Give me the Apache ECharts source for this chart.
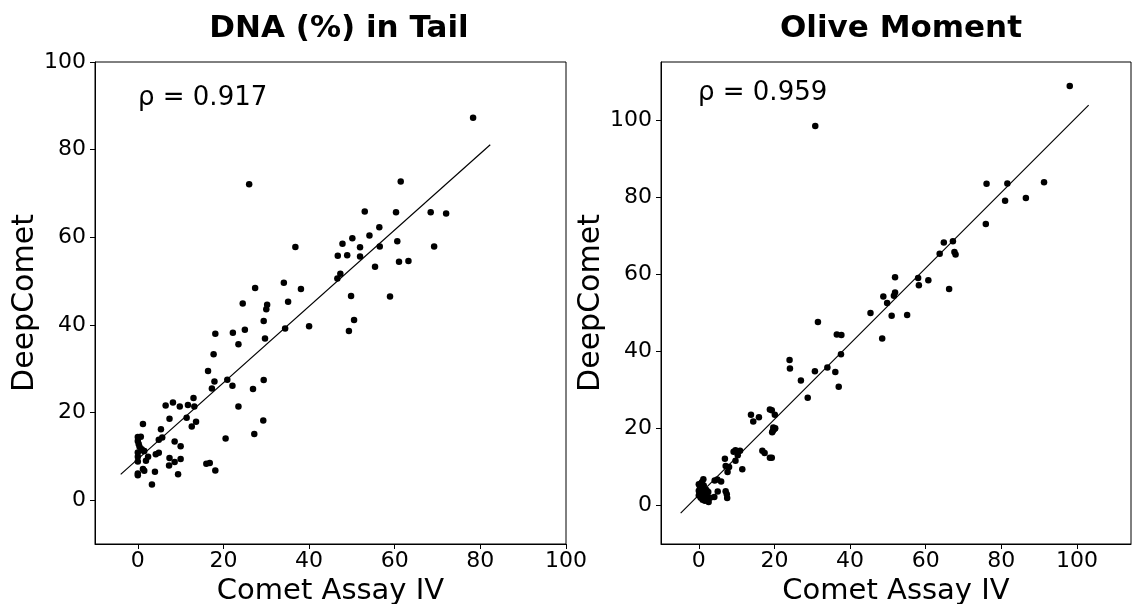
<html>
  <head>
    <meta charset="utf-8">
    <script src="https://cdnjs.cloudflare.com/ajax/libs/echarts/6.0.0/echarts.min.js"></script>
    <style>
      body { margin: 0; background-color: #fff; }
      #chart { width: 1137px; height: 604px; }
    </style>
  </head>
  <body>
    <div id="chart"></div>
  </body>
  <script>
    // DNA (%) in Tail - Comet Assay IV vs DeepComet
    var dnaX = [78.3, 26.0, 61.4, 53.0, 60.3, 68.4, 72.0, 56.4, 54.1, 50.1, 47.8, 36.8, 51.9, 56.5, 60.6, 69.2,
                46.7, 48.9, 51.9, 61.0, 63.2, 55.4, 47.3, 46.6, 34.1, 27.4, 38.1, 49.8, 58.9, 24.5, 30.2, 30.0,
                35.1, 29.4, 40.0, 49.3, 50.5, 34.4, 25.0, 22.2, 18.1, 29.7, 23.5, 17.7, 16.4, 20.9, 29.4, 17.9,
                22.1, 17.3, 26.9, 13.0, 8.2, 6.5, 9.8, 11.7, 13.2, 23.5, 7.4, 11.4, 13.6, 12.6, 29.3, 1.2,
                5.4, 27.2, 0.0, 0.7, 5.7, 4.9, 20.5, 0.0, 8.6, 10.0, 0.2, 0.4, 0.9, 1.5, 0.0, 1.4,
                4.9, 4.2, 2.4, 1.9, 0.0, 0.0, 7.4, 10.0, 8.6, 7.3, 1.2, 1.5, 4.0, 0.0, 0.0, 9.4,
                16.0, 16.8, 18.1, 3.3];
    var dnaY = [87.3, 72.1, 72.7, 65.9, 65.7, 65.7, 65.4, 62.3, 60.4, 59.8, 58.5, 57.8, 57.7, 57.9, 59.1, 57.9,
                55.8, 55.9, 55.6, 54.4, 54.6, 53.3, 51.7, 50.6, 49.6, 48.4, 48.2, 46.6, 46.5, 44.9, 44.6, 43.6,
                45.3, 40.9, 39.7, 38.6, 41.1, 39.2, 38.9, 38.2, 38.0, 36.9, 35.6, 33.3, 29.5, 27.5, 27.4, 27.1,
                26.1, 25.5, 25.4, 23.3, 22.3, 21.6, 21.4, 21.7, 21.4, 21.4, 18.6, 18.8, 17.9, 16.8, 18.2, 17.4,
                16.2, 15.1, 14.4, 14.5, 14.3, 13.8, 14.1, 13.5, 13.4, 12.3, 12.8, 12.2, 11.6, 11.2, 10.9, 11.2,
                10.8, 10.5, 9.9, 9.0, 9.9, 8.8, 9.6, 9.4, 8.7, 7.9, 7.1, 6.7, 6.5, 6.1, 5.7, 5.9,
                8.3, 8.5, 6.8, 3.6];
    var dnaFitX = [-4.0, 82.3];
    var dnaFitY = [5.9, 81.1];
    var dnaRho = 'ρ = 0.917';

    // Olive Moment
    var oliveX = [98.1, 30.8, 76.1, 81.6, 91.3, 81.0, 86.5, 75.9, 64.8, 67.2, 63.7, 67.6, 67.9, 51.9, 58.0, 60.7,
                  58.2, 66.2, 48.8, 51.9, 51.6, 49.8, 45.4, 51.0, 55.1, 31.5, 48.5, 36.5, 37.7, 37.6, 24.0, 24.1,
                  30.7, 34.0, 36.1, 27.0, 37.0, 28.8, 13.8, 14.4, 15.9, 18.8, 19.3, 20.1, 19.7, 20.2, 19.6, 19.4,
                  20.0, 9.2, 9.7, 10.9, 10.3, 9.7, 16.8, 17.4, 18.8, 19.3, 6.9, 7.1, 8.0, 7.6, 11.5, 1.2,
                  4.2, 4.9, 5.9, 5.0, 7.1, 7.4, 7.5, 2.6, 4.1, 0.0, 0.3, 0.6, 0.0, 0.2, 0.0, 0.5,
                  1.0, 1.5, 1.8, 2.0, 1.3, 2.5, 3.0, 0.8, 1.6];
    var oliveY = [108.8, 98.4, 83.4, 83.5, 83.8, 79.0, 79.7, 73.0, 68.2, 68.5, 65.3, 65.7, 65.1, 59.2, 59.0, 58.4,
                  57.1, 56.1, 54.2, 55.2, 54.4, 52.5, 49.9, 49.2, 49.4, 47.6, 43.3, 44.3, 44.2, 39.2, 37.7, 35.5,
                  34.8, 35.8, 34.6, 32.4, 30.8, 27.9, 23.5, 21.8, 22.9, 24.9, 24.7, 23.5, 20.2, 20.0, 19.4, 19.0,
                  19.8, 13.9, 14.3, 14.2, 13.0, 11.6, 14.2, 13.6, 12.4, 12.4, 12.1, 10.2, 10.0, 8.7, 9.4, 6.8,
                  6.5, 6.7, 6.2, 3.6, 3.7, 2.9, 1.9, 0.9, 2.2, 5.5, 4.8, 4.2, 3.8, 3.2, 2.6, 2.0,
                  1.5, 3.0, 2.4, 4.0, 5.2, 3.5, 2.0, 6.0, 1.2];
    var oliveFitX = [-4.8, 103.1];
    var oliveFitY = [-2.0, 103.8];
    var oliveRho = 'ρ = 0.959';

    var ticks = [0, 20, 40, 60, 80, 100];
    var font = 'DejaVu Sans';

    function pairs(xs, ys) {
        var out = [];
        for (let i = 0; i < xs.length; i++) {
            out.push([xs[i], ys[i]]);
        }
        return out;
    }

    function xAx(idx, max) {
        return {
            type: 'value', gridIndex: idx, min: -10, max: max,
            name: 'Comet Assay IV', nameLocation: 'middle', nameGap: 27,
            nameTextStyle: { fontFamily: font, fontSize: 29, color: '#000' },
            axisLine: { show: true, onZero: false, lineStyle: { color: '#000', width: 1 } },
            axisTick: { show: true, length: 5, customValues: ticks, lineStyle: { color: '#000' } },
            axisLabel: { customValues: ticks, fontFamily: font, fontSize: 22, color: '#000', margin: 6 },
            splitLine: { show: false }
        };
    }

    function yAx(idx, max) {
        return {
            type: 'value', gridIndex: idx, min: -10, max: max,
            name: 'DeepComet', nameLocation: 'middle', nameGap: 55,
            nameTextStyle: { fontFamily: font, fontSize: 30, color: '#000' },
            axisLine: { show: true, onZero: false, lineStyle: { color: '#000', width: 1 } },
            axisTick: { show: true, length: 5, customValues: ticks, lineStyle: { color: '#000' } },
            axisLabel: { customValues: ticks, fontFamily: font, fontSize: 22, color: '#000', margin: 9 },
            splitLine: { show: false }
        };
    }

    var chart = echarts.init(document.getElementById('chart'));
    var option = {
        animation: false,
        backgroundColor: '#fff',
        title: [
            { text: 'DNA (%) in Tail', left: 334, top: 8, textAlign: 'center',
              textStyle: { fontFamily: font, fontSize: 31, fontWeight: 'bold', color: '#000' } },
            { text: 'Olive Moment', left: 896, top: 8, textAlign: 'center',
              textStyle: { fontFamily: font, fontSize: 31, fontWeight: 'bold', color: '#000' } }
        ],
        grid: [
            { left: 95, top: 62, width: 471, height: 482, show: true, borderColor: '#000', borderWidth: 1,
              containLabel: false, outerBoundsMode: 'none' },
            { left: 661, top: 62, width: 470, height: 482, show: true, borderColor: '#000', borderWidth: 1,
              containLabel: false, outerBoundsMode: 'none' }
        ],
        xAxis: [xAx(0, 100), xAx(1, 114.3)],
        yAxis: [yAx(0, 100), yAx(1, 115)],
        graphic: [
            { type: 'text', left: 138, top: 85, style: { text: dnaRho, fontFamily: font, fontSize: 26, fill: '#000' } },
            { type: 'text', left: 698, top: 80, style: { text: oliveRho, fontFamily: font, fontSize: 26, fill: '#000' } }
        ],
        series: [
            { type: 'scatter', xAxisIndex: 0, yAxisIndex: 0, symbolSize: 6.5,
              itemStyle: { color: '#000', opacity: 1 }, data: pairs(dnaX, dnaY) },
            { type: 'line', xAxisIndex: 0, yAxisIndex: 0, showSymbol: false,
              lineStyle: { color: '#000', width: 1.2 }, data: pairs(dnaFitX, dnaFitY) },
            { type: 'scatter', xAxisIndex: 1, yAxisIndex: 1, symbolSize: 6.5,
              itemStyle: { color: '#000', opacity: 1 }, data: pairs(oliveX, oliveY) },
            { type: 'line', xAxisIndex: 1, yAxisIndex: 1, showSymbol: false,
              lineStyle: { color: '#000', width: 1.2 }, data: pairs(oliveFitX, oliveFitY) }
        ]
    };
    chart.setOption(option);
  </script>
</html>
